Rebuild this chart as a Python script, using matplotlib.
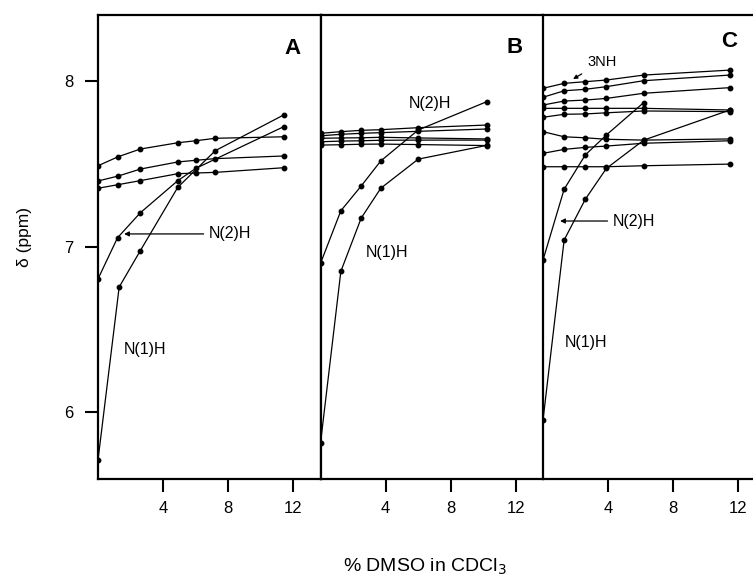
import matplotlib
matplotlib.use("Agg")
import matplotlib.pyplot as plt

# ---------------------------------------------------------------
# data
# ---------------------------------------------------------------

# panel A
a_x = [0, 1.25, 2.6, 4.9, 6.0, 7.2, 11.4]
a_flat1 = [7.488, 7.543, 7.589, 7.627, 7.639, 7.654, 7.663]
a_flat2 = [7.396, 7.426, 7.468, 7.511, 7.521, 7.531, 7.547]
a_flat3 = [7.352, 7.374, 7.398, 7.440, 7.444, 7.448, 7.476]
a_n1_x = [0, 1.3, 2.6, 4.9, 7.2, 11.4]
a_n1_y = [5.71, 6.755, 6.975, 7.358, 7.579, 7.795]
a_n2_x = [0, 1.2, 2.6, 4.9, 6.0, 11.4]
a_n2_y = [6.804, 7.053, 7.204, 7.398, 7.472, 7.724]

# panel B
b_x = [0, 1.25, 2.5, 3.7, 6.0, 10.2]
b_flat1 = [7.684, 7.694, 7.702, 7.706, 7.718, 7.734]
b_flat2 = [7.669, 7.678, 7.684, 7.688, 7.696, 7.710]
b_flat3 = [7.654, 7.656, 7.657, 7.660, 7.656, 7.650]
b_flat4 = [7.633, 7.637, 7.639, 7.642, 7.643, 7.643]
b_flat5 = [7.613, 7.615, 7.618, 7.619, 7.616, 7.610]
b_n1_y = [5.811, 6.850, 7.172, 7.352, 7.528, 7.611]
b_n2_y = [6.898, 7.216, 7.366, 7.517, 7.704, 7.875]

# panel C
c_x = [0, 1.3, 2.6, 3.9, 6.2, 11.5]
c_flat1 = [7.956, 7.986, 7.996, 8.006, 8.036, 8.066]
c_flat2 = [7.902, 7.941, 7.950, 7.966, 8.002, 8.036]
c_flat3 = [7.855, 7.879, 7.885, 7.895, 7.926, 7.960]
c_flat4 = [7.835, 7.835, 7.835, 7.835, 7.835, 7.825]
c_flat5 = [7.781, 7.799, 7.801, 7.808, 7.819, 7.815]
c_flat6 = [7.694, 7.663, 7.657, 7.648, 7.643, 7.650]
c_flat7 = [7.563, 7.587, 7.599, 7.607, 7.624, 7.639]
c_flat8 = [7.482, 7.482, 7.482, 7.482, 7.488, 7.498]
c_n1_y = [5.95, 7.039, 7.285, 7.472, 7.643, 7.825]
c_n2_x = [0, 1.3, 2.6, 3.9, 6.2]
c_n2_y = [6.918, 7.346, 7.553, 7.674, 7.870]

x_ticks = [4, 8, 12]
y_ticks = [6, 7, 8]

# ---------------------------------------------------------------
# figure
# ---------------------------------------------------------------
plt.rcParams['font.family'] = ['Liberation Sans', 'DejaVu Sans']

fig = plt.figure(figsize=(7.53, 5.78), dpi=100)
W, H = 753, 578
bottom = 1 - 479 / H
height = (479 - 15) / H
ax_a = fig.add_axes([98 / W, bottom, 222.5 / W, height])
ax_b = fig.add_axes([320.5 / W, bottom, 222.5 / W, height])
ax_c = fig.add_axes([543 / W, bottom, 210 / W, height])

line_kw = dict(color='black', lw=0.9, marker='o', ms=3.2)
spine_w = 1.6

for ax in (ax_a, ax_b, ax_c):
    ax.set_ylim(5.595, 8.399)
    ax.set_xticks(x_ticks)
    ax.set_xticklabels([str(t) for t in x_ticks], fontsize=12)
    ax.tick_params(axis='x', direction='out', length=9.5, width=1.5, pad=6)
    for s in ax.spines.values():
        s.set_linewidth(spine_w)
    ax.spines['right'].set_visible(False)
    ax.set_yticks([])

ax_a.set_xlim(0, 13.66)
ax_b.set_xlim(0, 13.66)
ax_c.set_xlim(0, 12.92)

ax_a.spines['right'].set_visible(True)
ax_a.set_yticks(y_ticks)
ax_a.set_yticklabels([str(t) for t in y_ticks], fontsize=12)
ax_a.tick_params(axis='y', direction='out', length=9.5, width=1.5, pad=8)

# panel A
for ys in (a_flat1, a_flat2, a_flat3):
    ax_a.plot(a_x, ys, **line_kw)
ax_a.plot(a_n1_x, a_n1_y, **line_kw)
ax_a.plot(a_n2_x, a_n2_y, **line_kw)

# panel B
for ys in (b_flat1, b_flat2, b_flat3, b_flat4, b_flat5, b_n1_y, b_n2_y):
    ax_b.plot(b_x, ys, **line_kw)

# panel C
for ys in (c_flat1, c_flat2, c_flat3, c_flat4, c_flat5, c_flat6, c_flat7,
           c_flat8, c_n1_y):
    ax_c.plot(c_x, ys, **line_kw)
ax_c.plot(c_n2_x, c_n2_y, **line_kw)

# panel letters
letter_kw = dict(fontsize=16, fontweight='bold', ha='center', va='center')
ax_a.text(11.94, 8.199, 'A', **letter_kw)
ax_b.text(11.94, 8.205, 'B', **letter_kw)
ax_c.text(11.45, 8.236, 'C', **letter_kw)

# labels and arrows
lab_kw = dict(fontsize=11.5, va='center')
arrow = dict(arrowstyle='-|>', color='black', lw=0.9, mutation_scale=7,
             shrinkA=2, shrinkB=0)

ax_a.annotate('N(2)H', xy=(1.6, 7.076), xytext=(6.83, 7.076), ha='left',
              arrowprops=arrow, **lab_kw)
ax_a.text(1.6, 6.375, 'N(1)H', ha='left', **lab_kw)

ax_b.text(6.71, 7.867, 'N(2)H', ha='center', **lab_kw)
ax_b.text(4.06, 6.961, 'N(1)H', ha='center', **lab_kw)

ax_c.annotate('3NH', xy=(1.85, 8.012), xytext=(2.71, 8.115), ha='left',
              fontsize=10.5, va='center',
              arrowprops=dict(arrowstyle='-|>', color='black', lw=0.9,
                              mutation_scale=6, shrinkA=3, shrinkB=0))
ax_c.annotate('N(2)H', xy=(1.05, 7.154), xytext=(4.31, 7.154), ha='left',
              arrowprops=arrow, **lab_kw)
ax_c.text(1.35, 6.417, 'N(1)H', ha='left', **lab_kw)

# axis titles
fig.text(425 / W, 1 - 567 / H, '% DMSO in CDCl$_3$', fontsize=14,
         ha='center', va='center')
fig.text(25 / W, 1 - 237 / H, 'δ (ppm)', fontsize=12.5, rotation=90,
         ha='center', va='center')

fig.savefig('out.png', dpi=100)
